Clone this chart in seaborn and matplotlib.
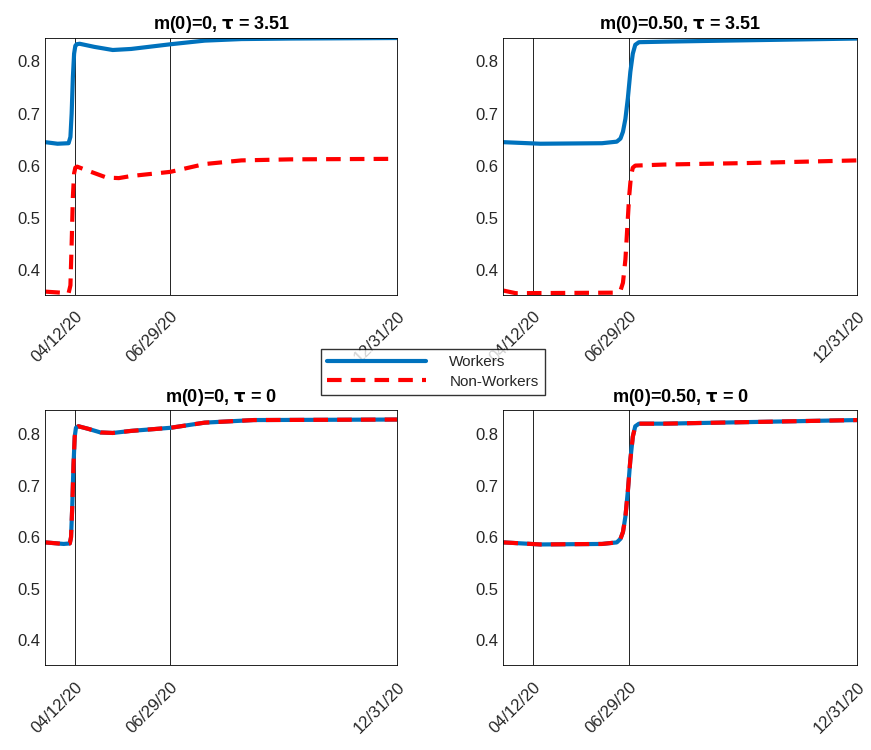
import numpy as np
import pandas as pd
import matplotlib
matplotlib.use("Agg")
import matplotlib.pyplot as plt
import seaborn as sns

# days counted from 03/19/20
tick_days = [24, 102, 287]
tick_labels = ["04/12/20", "06/29/20", "12/31/20"]
vlines = [24, 102]

tl_days = [0, 10, 19, 20.5, 21.5, 22.5, 23.5, 24.5, 25.5, 28, 40, 55, 70, 102, 130, 160, 200, 287]
tl_work = [0.645, 0.642, 0.643, 0.655, 0.70, 0.77, 0.815, 0.83, 0.833, 0.834, 0.828, 0.822, 0.824, 0.833, 0.840, 0.843, 0.844, 0.845]
tl_nw_days = [0, 19, 20.5, 21.5, 22.5, 23.5, 24.5, 26, 35, 50, 60, 70, 102, 130, 160, 200, 287]
tl_nw = [0.358, 0.355, 0.37, 0.45, 0.54, 0.585, 0.596, 0.598, 0.59, 0.577, 0.576, 0.58, 0.588, 0.603, 0.610, 0.612, 0.613]

tr_days = [0, 30, 80, 92, 95, 97, 99, 101, 103, 105, 107, 110, 130, 180, 287]
tr_work = [0.645, 0.642, 0.643, 0.646, 0.652, 0.665, 0.69, 0.73, 0.78, 0.815, 0.832, 0.837, 0.838, 0.840, 0.844]
tr_nw_days = [0, 10, 90, 95, 97, 99, 100.5, 102, 103.5, 105, 107, 130, 200, 287]
tr_nw = [0.36, 0.355, 0.356, 0.36, 0.375, 0.42, 0.48, 0.54, 0.58, 0.596, 0.60, 0.602, 0.605, 0.61]

bl_days = [0, 15, 20, 21, 22, 23, 24, 25, 27, 35, 45, 55, 70, 102, 130, 170, 287]
bl_vals = [0.59, 0.587, 0.588, 0.60, 0.66, 0.74, 0.795, 0.812, 0.815, 0.81, 0.803, 0.802, 0.806, 0.812, 0.822, 0.827, 0.828]

br_days = [0, 30, 80, 92, 95, 97, 99, 101, 103, 105, 107, 110, 130, 287]
br_vals = [0.59, 0.586, 0.587, 0.59, 0.597, 0.61, 0.64, 0.69, 0.75, 0.795, 0.815, 0.82, 0.82, 0.827]

titles = [r"m(0)=0, $\mathbf{\tau}$ = 3.51", r"m(0)=0.50, $\mathbf{\tau}$ = 3.51",
          r"m(0)=0, $\mathbf{\tau}$ = 0", r"m(0)=0.50, $\mathbf{\tau}$ = 0"]

panels = [
    (tl_days, tl_work, tl_nw_days, tl_nw),
    (tr_days, tr_work, tr_nw_days, tr_nw),
    (bl_days, bl_vals, bl_days, bl_vals),
    (br_days, br_vals, br_days, br_vals),
]

sns.set_style("white")
plt.rcParams["font.family"] = ["Liberation Sans", "DejaVu Sans"]
plt.rcParams["mathtext.fontset"] = "dejavusans"

fig = plt.figure(figsize=(8.71, 7.5), dpi=100)
positions = [
    [0.052, 0.607, 0.404, 0.343],
    [0.578, 0.607, 0.406, 0.343],
    [0.052, 0.113, 0.404, 0.340],
    [0.578, 0.113, 0.406, 0.340],
]

for i, (pos, (wd, wv, nd, nv)) in enumerate(zip(positions, panels)):
    ax = fig.add_axes(pos)
    for d in vlines:
        ax.axvline(d, color="black", lw=0.6)
    sns.lineplot(x=wd, y=wv, ax=ax, color="#0072BD", lw=3, label="Workers")
    sns.lineplot(x=nd, y=nv, ax=ax, color="red", lw=3, ls=(0, (3.5, 2.2)), label="Non-Workers")
    ax.set_xlim(0, 287)
    ax.set_ylim(0.352, 0.846)
    ax.set_yticks([0.4, 0.5, 0.6, 0.7, 0.8])
    ax.set_xticks(tick_days)
    ax.set_xticklabels(tick_labels, rotation=45, ha="right", rotation_mode="anchor")
    ax.tick_params(direction="in", labelsize=12, length=4, colors="#262626")
    ax.tick_params(axis="x", pad=10)
    ax.set_title(titles[i], fontsize=13, fontweight="bold", color="black")
    for s in ax.spines.values():
        s.set_linewidth(0.6)
        s.set_color("black")
    if i == 0:
        handles, labels = ax.get_legend_handles_labels()
    ax.get_legend().remove()

fig.legend(handles, labels, loc="center", bbox_to_anchor=(0.497, 0.504),
           fontsize=11, frameon=True, fancybox=False, edgecolor="black",
           handlelength=6.5, borderpad=0.4, labelspacing=0.35, handletextpad=1.5,
           borderaxespad=0)

fig.savefig("out.png", dpi=100)
